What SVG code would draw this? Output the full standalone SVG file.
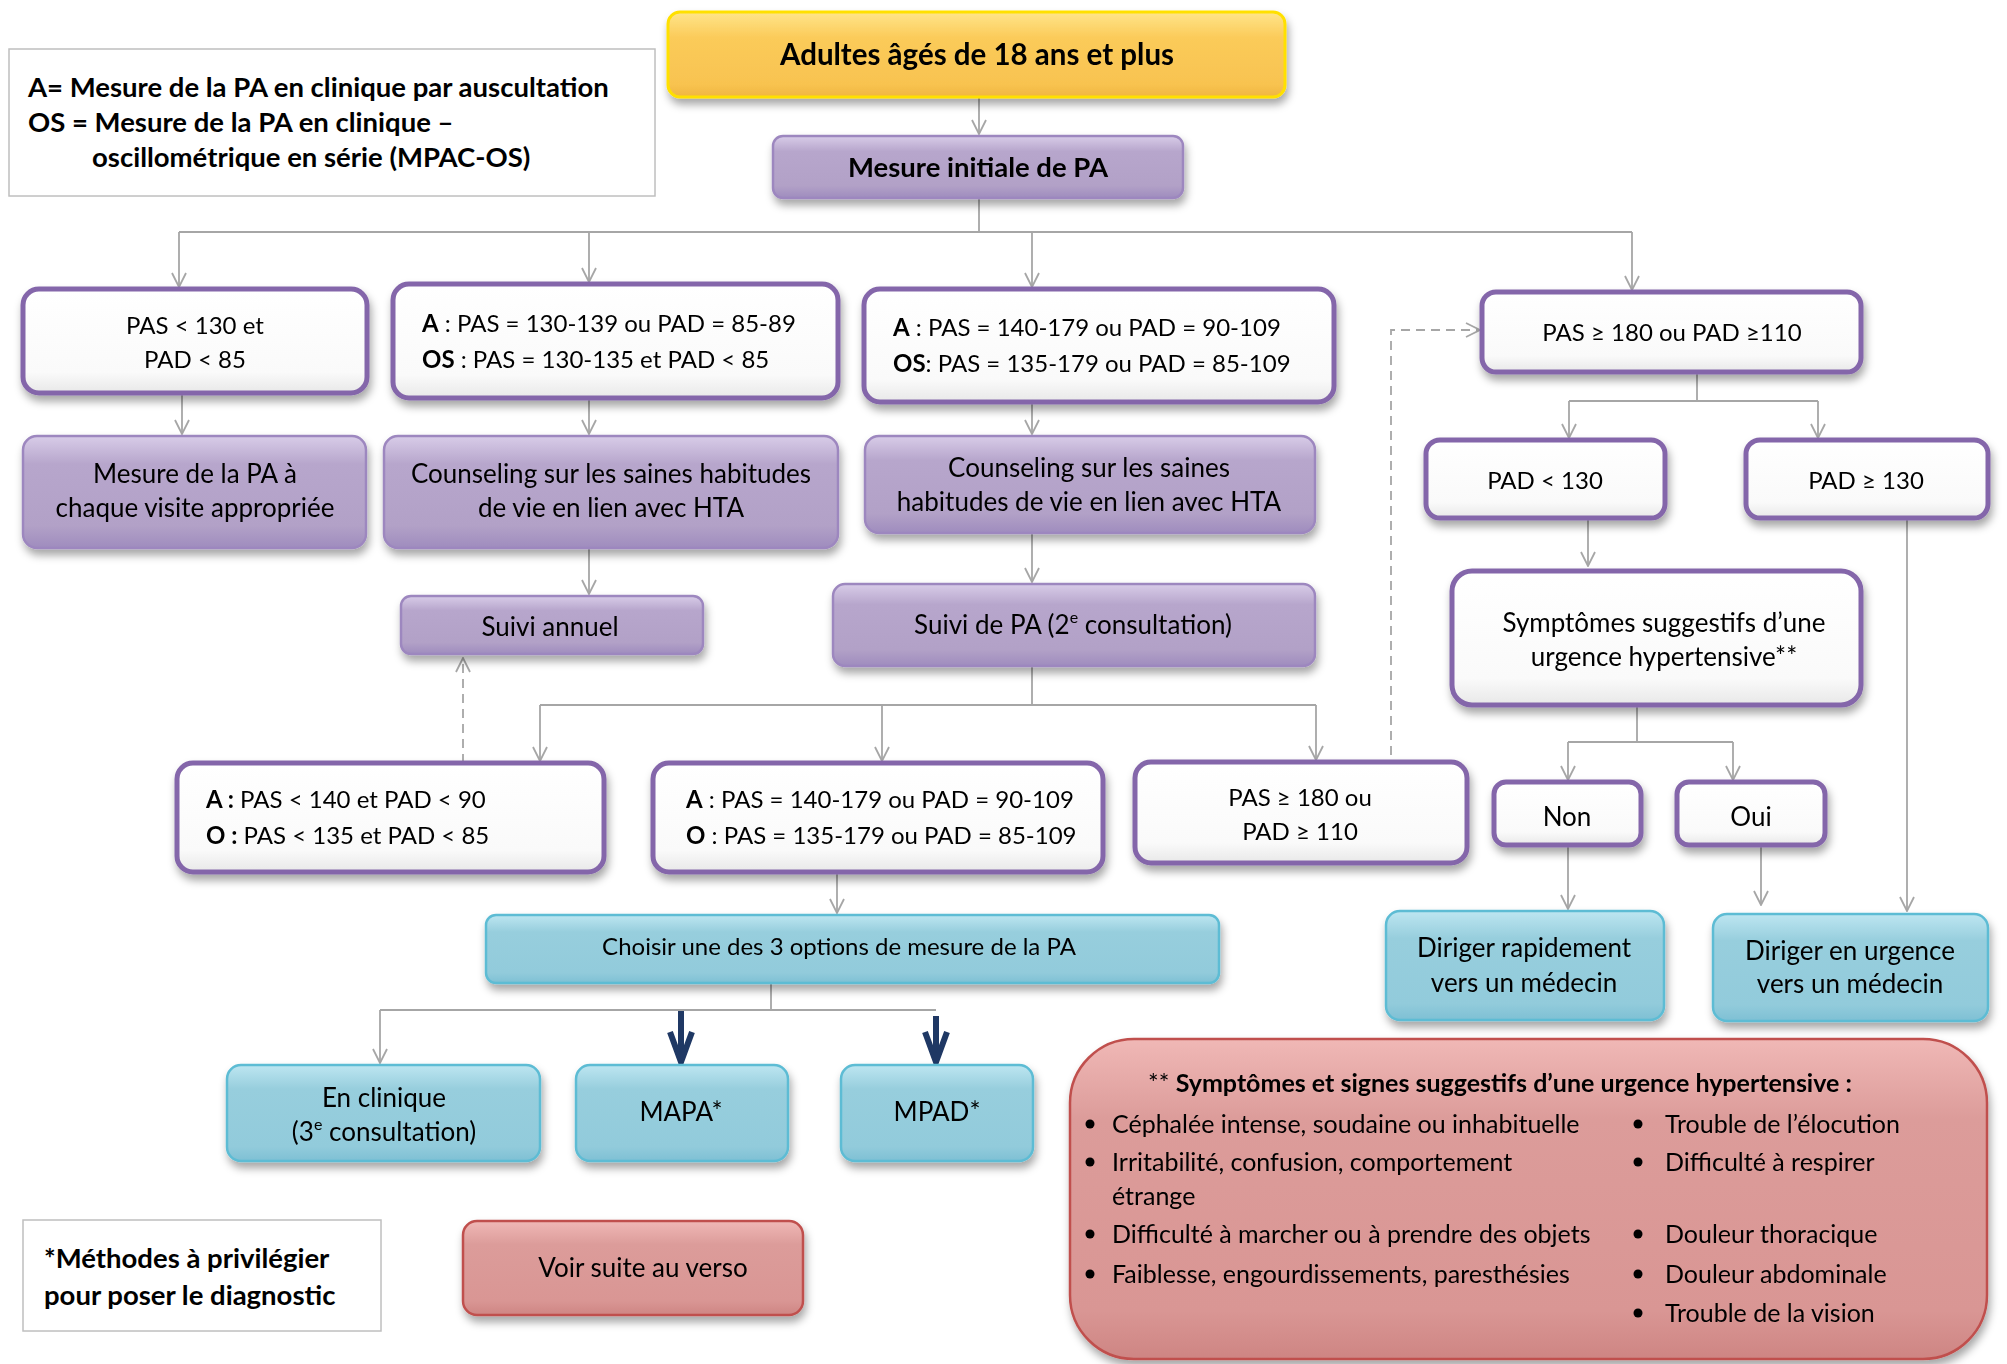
<svg xmlns="http://www.w3.org/2000/svg" width="2007" height="1364" viewBox="0 0 2007 1364">
<style>
text{font-family:Lato,"Open Sans","Liberation Sans",sans-serif;fill:#000}
.t{font-size:26px}
.n{font-size:24px}
.l{font-size:25px}
.tb{font-size:27.5px;font-weight:bold}
.mid{text-anchor:middle}
.b{font-weight:bold}
.con{fill:none;stroke:#A6A6A6;stroke-width:1.8}
.dash{stroke-dasharray:9 6}
.pur{fill:url(#gPur);stroke:#9D87BF;stroke-width:2.5}
.wht{fill:url(#gWht);stroke:#8466AA;stroke-width:5}
.blu{fill:url(#gBlu);stroke:#5DBCD4;stroke-width:2.5}
.yel{fill:url(#gYel);stroke:#FFE000;stroke-width:3}
.red{fill:url(#gRed);stroke:#C0504D;stroke-width:2.5}
.leg{fill:#fff;stroke:#BFBFBF;stroke-width:1.5}
.node{filter:url(#sh)}
.thick{fill:none;stroke:#1F3864;stroke-width:6}
</style>
<defs>
<filter id="sh" x="-10%" y="-20%" width="120%" height="150%">
<feDropShadow dx="2" dy="6" stdDeviation="4" flood-color="#000" flood-opacity="0.35"/>
</filter>
<linearGradient id="gPur" x1="0" y1="0" x2="0" y2="1">
<stop offset="0" stop-color="#D8CCE8"/><stop offset="0.25" stop-color="#B7A6CC"/><stop offset="0.8" stop-color="#B2A1C7"/><stop offset="1" stop-color="#9F8CBE"/>
</linearGradient>
<linearGradient id="gWht" x1="0" y1="0" x2="0" y2="1">
<stop offset="0" stop-color="#FFFFFF"/><stop offset="0.8" stop-color="#FAFAFA"/><stop offset="1" stop-color="#E8E8E8"/>
</linearGradient>
<linearGradient id="gBlu" x1="0" y1="0" x2="0" y2="1">
<stop offset="0" stop-color="#BDE6F1"/><stop offset="0.25" stop-color="#97CEDD"/><stop offset="0.85" stop-color="#92CBDB"/><stop offset="1" stop-color="#7EC0D4"/>
</linearGradient>
<linearGradient id="gYel" x1="0" y1="0" x2="0" y2="1">
<stop offset="0" stop-color="#FFE58A"/><stop offset="0.3" stop-color="#FBCB5A"/><stop offset="0.85" stop-color="#F8C350"/><stop offset="1" stop-color="#F0B640"/>
</linearGradient>
<linearGradient id="gRed" x1="0" y1="0" x2="0" y2="1">
<stop offset="0" stop-color="#F0B8B6"/><stop offset="0.25" stop-color="#DC9C9A"/><stop offset="0.85" stop-color="#D99694"/><stop offset="1" stop-color="#CE8583"/>
</linearGradient>
<marker id="ar" viewBox="0 0 16 16" refX="15" refY="8" markerWidth="16" markerHeight="16" markerUnits="userSpaceOnUse" orient="auto">
<path d="M1,1 L15,8 L1,15" fill="none" stroke="#A6A6A6" stroke-width="1.8"/>
</marker>
<marker id="arT" viewBox="0 0 40 30" refX="34" refY="15" markerWidth="40" markerHeight="30" markerUnits="userSpaceOnUse" orient="auto">
<path d="M4,4 L34,15 L4,26" fill="none" stroke="#1F3864" stroke-width="6" stroke-linejoin="miter"/>
</marker>
</defs>

<g id="connectors">
<path class="con" d="M979,97 V134" marker-end="url(#ar)"/>
<path class="con" d="M979,198 V232 M179,232 H1632"/>
<path class="con" d="M179,232 V287" marker-end="url(#ar)"/>
<path class="con" d="M589,232 V282" marker-end="url(#ar)"/>
<path class="con" d="M1032,232 V287" marker-end="url(#ar)"/>
<path class="con" d="M1632,232 V290" marker-end="url(#ar)"/>
<path class="con" d="M182,393 V434" marker-end="url(#ar)"/>
<path class="con" d="M589,398 V434" marker-end="url(#ar)"/>
<path class="con" d="M1032,402 V434" marker-end="url(#ar)"/>
<path class="con" d="M589,548 V594" marker-end="url(#ar)"/>
<path class="con" d="M1032,533 V582" marker-end="url(#ar)"/>
<path class="con" d="M1032,666 V705 M540,705 H1316"/>
<path class="con" d="M540,705 V761" marker-end="url(#ar)"/>
<path class="con" d="M882,705 V761" marker-end="url(#ar)"/>
<path class="con" d="M1316,705 V760" marker-end="url(#ar)"/>
<path class="con dash" d="M463,763 V658" marker-end="url(#ar)"/>
<path class="con dash" d="M1391,755 V330 H1480" marker-end="url(#ar)"/>
<path class="con" d="M1697,372 V401 M1569,401 H1818"/>
<path class="con" d="M1569,401 V438" marker-end="url(#ar)"/>
<path class="con" d="M1818,401 V438" marker-end="url(#ar)"/>
<path class="con" d="M1588,518 V566" marker-end="url(#ar)"/>
<path class="con" d="M1907,518 V911" marker-end="url(#ar)"/>
<path class="con" d="M1637,705 V742 M1568,742 H1733"/>
<path class="con" d="M1568,742 V780" marker-end="url(#ar)"/>
<path class="con" d="M1733,742 V780" marker-end="url(#ar)"/>
<path class="con" d="M1568,845 V909" marker-end="url(#ar)"/>
<path class="con" d="M1761,845 V905" marker-end="url(#ar)"/>
<path class="con" d="M837,872 V913" marker-end="url(#ar)"/>
<path class="con" d="M771,983 V1010 M380,1010 H936"/>
<path class="con" d="M380,1010 V1063" marker-end="url(#ar)"/>
<path class="thick" d="M681,1011 V1062" marker-end="url(#arT)"/>
<path class="thick" d="M936,1016 V1062" marker-end="url(#arT)"/>
</g>

<g id="legend">
<rect class="leg" x="9" y="49" width="646" height="147"/>
<text class="tb" x="28" y="97">A= Mesure de la PA en clinique par auscultation</text>
<text class="tb" x="28" y="132">OS = Mesure de la PA en clinique –</text>
<text class="tb" x="92" y="167">oscillométrique en série (MPAC-OS)</text>
</g>

<g id="n-adultes" class="node">
<rect class="yel" x="668" y="12" width="617" height="85" rx="12"/>
<text class="mid b" x="977" y="65" font-size="29.5">Adultes âgés de 18 ans et plus</text>
</g>

<g id="n-mesure-initiale" class="node">
<rect class="pur" x="773" y="136" width="410" height="62" rx="10"/>
<text class="mid b" x="978" y="177" font-size="27.5">Mesure initiale de PA</text>
</g>

<g id="n-pas130" class="node">
<rect class="wht" x="23" y="289" width="344" height="104" rx="16"/>
<text class="n mid" x="195" y="334" font-size="25">PAS &lt; 130 et</text>
<text class="n mid" x="195" y="368" font-size="25">PAD &lt; 85</text>
</g>

<g id="n-a130" class="node">
<rect class="wht" x="393" y="284" width="445" height="114" rx="16"/>
<text class="n" x="422" y="332"><tspan class="b">A</tspan> : PAS = 130-139 ou PAD = 85-89</text>
<text class="n" x="422" y="368"><tspan class="b">OS</tspan> : PAS = 130-135 et PAD &lt; 85</text>
</g>

<g id="n-a140" class="node">
<rect class="wht" x="864" y="289" width="470" height="113" rx="16"/>
<text class="n" x="893" y="336"><tspan class="b">A</tspan> : PAS = 140-179 ou PAD = 90-109</text>
<text class="n" x="893" y="372"><tspan class="b">OS</tspan>: PAS = 135-179 ou PAD = 85-109</text>
</g>

<g id="n-pas180" class="node">
<rect class="wht" x="1482" y="292" width="379" height="80" rx="14"/>
<text class="n mid" x="1672" y="341">PAS ≥ 180 ou PAD ≥110</text>
</g>

<g id="n-mesure-visite" class="node">
<rect class="pur" x="23" y="436" width="343" height="112" rx="14"/>
<text class="t mid" x="195" y="483">Mesure de la PA à</text>
<text class="t mid" x="195" y="517">chaque visite appropriée</text>
</g>

<g id="n-counsel1" class="node">
<rect class="pur" x="384" y="436" width="454" height="112" rx="14"/>
<text class="t mid" x="611" y="483">Counseling sur les saines habitudes</text>
<text class="t mid" x="611" y="517">de vie en lien avec HTA</text>
</g>

<g id="n-counsel2" class="node">
<rect class="pur" x="865" y="436" width="450" height="97" rx="14"/>
<text class="t mid" x="1089" y="477">Counseling sur les saines</text>
<text class="t mid" x="1089" y="511">habitudes de vie en lien avec HTA</text>
</g>

<g id="n-pad-lt130" class="node">
<rect class="wht" x="1426" y="440" width="239" height="78" rx="14"/>
<text class="n mid" x="1545" y="489" font-size="25">PAD &lt; 130</text>
</g>

<g id="n-pad-ge130" class="node">
<rect class="wht" x="1746" y="440" width="242" height="78" rx="14"/>
<text class="n mid" x="1866" y="489" font-size="25">PAD ≥ 130</text>
</g>

<g id="n-suivi-annuel" class="node">
<rect class="pur" x="401" y="596" width="302" height="58" rx="10"/>
<text class="t mid" x="550" y="636">Suivi annuel</text>
</g>

<g id="n-suivi-pa" class="node">
<rect class="pur" x="833" y="584" width="482" height="82" rx="12"/>
<text class="t mid" x="1073" y="634">Suivi de PA (2<tspan font-size="16" dy="-11">e</tspan><tspan dy="11"> consultation)</tspan></text>
</g>

<g id="n-symptomes" class="node">
<rect class="wht" x="1452" y="571" width="409" height="134" rx="20"/>
<text class="t mid" x="1664" y="632">Symptômes suggestifs d’une</text>
<text class="t mid" x="1664" y="666">urgence hypertensive**</text>
</g>

<g id="n-a-lt140" class="node">
<rect class="wht" x="177" y="763" width="427" height="109" rx="16"/>
<text class="n" x="206" y="808"><tspan class="b">A :</tspan> PAS &lt; 140 et PAD &lt; 90</text>
<text class="n" x="206" y="844"><tspan class="b">O :</tspan> PAS &lt; 135 et PAD &lt; 85</text>
</g>

<g id="n-a-140-179" class="node">
<rect class="wht" x="653" y="763" width="450" height="109" rx="16"/>
<text class="n" x="686" y="808"><tspan class="b">A</tspan> : PAS = 140-179 ou PAD = 90-109</text>
<text class="n" x="686" y="844"><tspan class="b">O</tspan> : PAS = 135-179 ou PAD = 85-109</text>
</g>

<g id="n-pas180-2" class="node">
<rect class="wht" x="1135" y="762" width="332" height="101" rx="16"/>
<text class="n mid" x="1300" y="806" font-size="25">PAS ≥ 180 ou</text>
<text class="n mid" x="1300" y="840" font-size="25">PAD ≥ 110</text>
</g>

<g id="n-non" class="node">
<rect class="wht" x="1494" y="782" width="147" height="63" rx="12"/>
<text class="t mid" x="1567" y="826">Non</text>
</g>

<g id="n-oui" class="node">
<rect class="wht" x="1677" y="782" width="148" height="63" rx="12"/>
<text class="t mid" x="1751" y="826">Oui</text>
</g>

<g id="n-diriger-rapide" class="node">
<rect class="blu" x="1386" y="911" width="278" height="109" rx="14"/>
<text class="t mid" x="1524" y="957">Diriger rapidement</text>
<text class="t mid" x="1524" y="992">vers un médecin</text>
</g>

<g id="n-diriger-urgence" class="node">
<rect class="blu" x="1713" y="914" width="275" height="107" rx="14"/>
<text class="t mid" x="1850" y="960">Diriger en urgence</text>
<text class="t mid" x="1850" y="993">vers un médecin</text>
</g>

<g id="n-choisir" class="node">
<rect class="blu" x="486" y="915" width="733" height="68" rx="10"/>
<text class="n mid" x="839" y="955">Choisir une des 3 options de mesure de la PA</text>
</g>

<g id="n-clinique" class="node">
<rect class="blu" x="227" y="1065" width="313" height="96" rx="14"/>
<text class="t mid" x="384" y="1107">En clinique</text>
<text class="t mid" x="384" y="1141">(3<tspan font-size="16" dy="-11">e</tspan><tspan dy="11"> consultation)</tspan></text>
</g>

<g id="n-mapa" class="node">
<rect class="blu" x="576" y="1065" width="212" height="96" rx="14"/>
<text class="t mid" x="681" y="1121">MAPA*</text>
</g>

<g id="n-mpad" class="node">
<rect class="blu" x="841" y="1065" width="192" height="96" rx="14"/>
<text class="t mid" x="937" y="1121">MPAD*</text>
</g>

<g id="n-symptomes-liste" class="node">
<rect class="red" x="1070" y="1039" width="917" height="320" rx="64"/>
<text x="1148" y="1092" font-size="25"><tspan>** </tspan><tspan class="b">Symptômes et signes suggestifs d’une urgence hypertensive :</tspan></text>
<g fill="#000">
<circle cx="1090" cy="1124" r="4.5"/><circle cx="1090" cy="1162" r="4.5"/><circle cx="1090" cy="1234" r="4.5"/><circle cx="1090" cy="1274" r="4.5"/>
<circle cx="1638" cy="1124" r="4.5"/><circle cx="1638" cy="1162" r="4.5"/><circle cx="1638" cy="1234" r="4.5"/><circle cx="1638" cy="1274" r="4.5"/><circle cx="1638" cy="1313" r="4.5"/>
</g>
<text class="l" x="1112" y="1133">Céphalée intense, soudaine ou inhabituelle</text>
<text class="l" x="1112" y="1171">Irritabilité, confusion, comportement</text>
<text class="l" x="1112" y="1205">étrange</text>
<text class="l" x="1112" y="1243">Difficulté à marcher ou à prendre des objets</text>
<text class="l" x="1112" y="1283">Faiblesse, engourdissements, paresthésies</text>
<text class="l" x="1665" y="1133">Trouble de l’élocution</text>
<text class="l" x="1665" y="1171">Difficulté à respirer</text>
<text class="l" x="1665" y="1243">Douleur thoracique</text>
<text class="l" x="1665" y="1283">Douleur abdominale</text>
<text class="l" x="1665" y="1322">Trouble de la vision</text>
</g>

<g id="n-voir-suite" class="node">
<rect class="red" x="463" y="1221" width="340" height="94" rx="14"/>
<text class="t mid" x="643" y="1277">Voir suite au verso</text>
</g>

<g id="note-methodes">
<rect class="leg" x="23" y="1220" width="358" height="111"/>
<text class="tb" x="44" y="1268">*Méthodes à privilégier</text>
<text class="tb" x="44" y="1305">pour poser le diagnostic</text>
</g>
</svg>
